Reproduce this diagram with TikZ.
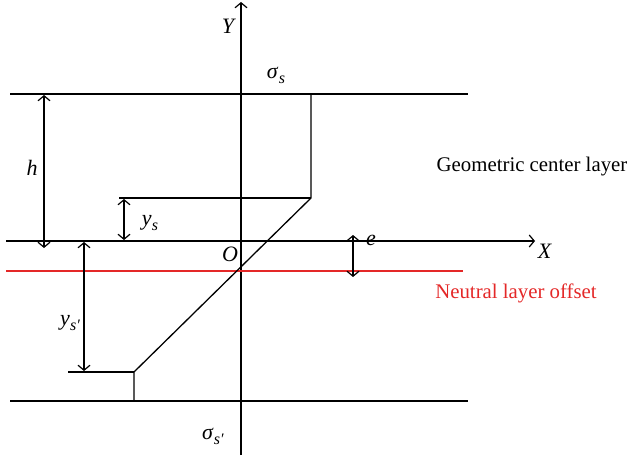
\documentclass[tikz,border=0pt]{standalone}
\usepackage{fontspec}
\setmainfont{Liberation Serif}
\usetikzlibrary{arrows.meta}
\definecolor{nred}{RGB}{228,40,40}
\newcommand{\subsc}[2]{\textit{#1}\kern0.3pt\raisebox{-5pt}{\fontsize{16}{18}\selectfont\textit{#2}}}
\begin{document}
\begin{tikzpicture}[x=1pt,y=-1pt,
  ln/.style={line width=1.3pt, black},
  barb/.tip={Straight Barb[length=5pt,width=12pt,line width=1.2pt]},
  dimline/.style={line width=1.3pt, {barb}-{barb}},
  lbl/.style={font=\fontsize{22}{26}\selectfont, inner sep=0pt},
  txt/.style={font=\fontsize{20.8}{24}\selectfont, inner sep=0pt},
]
\useasboundingbox (0,0) rectangle (629,460);
% axes
\coordinate (ybot) at (241,455); \coordinate (ytop) at (241,2);
\coordinate (xl) at (6,241); \coordinate (xr) at (535,241);
\draw[ln,-{barb}] (ybot) -- (ytop);
\draw[ln,-{barb}] (xl) -- (xr);
% top and bottom faces
\coordinate (tl) at (10,94); \coordinate (tr) at (468,94);
\coordinate (bl) at (10,401); \coordinate (br) at (468,401);
\draw[ln] (tl) -- (tr);
\draw[ln] (bl) -- (br);
% neutral layer
\coordinate (nl) at (6,271); \coordinate (nr) at (463,271);
\draw[line width=1.3pt, nred] (nl) -- (nr);
% stress profile
\coordinate (p1) at (311,94); \coordinate (p2) at (311,198);
\coordinate (p3) at (134,372); \coordinate (p4) at (134,401);
\coordinate (q1) at (119,198); \coordinate (q2) at (68,372);
\draw[ln] (p1) -- (p2) -- (p3) -- (p4);
\draw[ln] (q1) -- (p2);
\draw[ln] (q2) -- (p3);
% dimensions
\coordinate (h1) at (44,95); \coordinate (h2) at (44,248);
\coordinate (ys1) at (124,199); \coordinate (ys2) at (124,240);
\coordinate (yp1) at (84,242); \coordinate (yp2) at (84,371);
\coordinate (e1) at (353,235); \coordinate (e2) at (353,277);
\draw[dimline] (h1) -- (h2);
\draw[dimline] (ys1) -- (ys2);
\draw[dimline] (yp1) -- (yp2);
\draw[dimline] (e1) -- (e2);
% labels
\node[lbl] (lY) at (229,26) {\textit{Y}};
\node[lbl] (lss) at (276,75) {\subsc{σ}{s}};
\node[lbl] (lh) at (32,168) {\textit{h}};
\node[lbl] (lys) at (150,223) {\subsc{y}{s}};
\node[lbl] (lO) at (230,254) {\textit{O}};
\node[lbl] (le) at (371,240) {\textit{e}};
\node[lbl] (lX) at (545,251) {\textit{X}};
\node[lbl] (lyp) at (70,323) {\subsc{y}{s′}};
\node[lbl] (lsp) at (213,436) {\subsc{σ}{s′}};
\node[txt] (geo) at (532,167) {Geometric center layer};
\node[txt,text=nred] (neu) at (516,293) {Neutral layer offset};
\end{tikzpicture}
\end{document}
